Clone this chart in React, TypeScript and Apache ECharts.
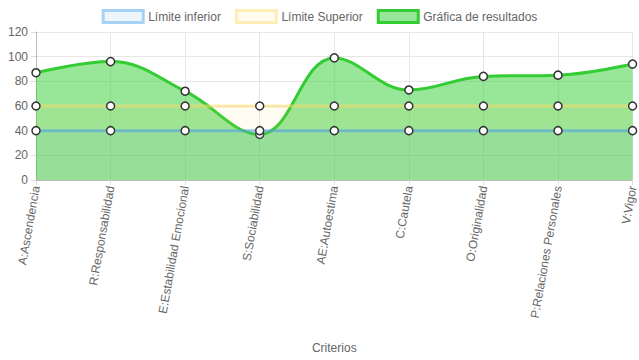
import React, { useEffect, useRef } from "react";
import * as echarts from "echarts";

const categories = [
  "A:Ascendencia",
  "R:Responsabilidad",
  "E:Estabilidad Emocional",
  "S:Sociabilidad",
  "AE:Autoestima",
  "C:Cautela",
  "O:Originalidad",
  "P:Relaciones Personales",
  "V:Vigor",
];
const limiteInferior = [40, 40, 40, 40, 40, 40, 40, 40, 40];
const limiteSuperior = [60, 60, 60, 60, 60, 60, 60, 60, 60];
const resultados = [87, 96, 72, 37, 99, 73, 84, 85, 94];
const yTicks = { min: 0, max: 120, interval: 20 };

const FONT = "'Liberation Sans', Arial, Helvetica, sans-serif";

export default function App() {
  const ref = useRef<HTMLDivElement>(null);
  useEffect(() => {
    if (!ref.current) return;
    const chart = echarts.init(ref.current, null, { renderer: "svg" });
    const point = {
      symbol: "circle",
      symbolSize: 8,
      itemStyle: { color: "#fff", borderColor: "#333", borderWidth: 1.5 },
    };
    chart.setOption({
      animation: false,
      textStyle: { fontFamily: FONT },
      legend: {
        top: 4,
        left: "center",
        itemWidth: 40,
        itemHeight: 12,
        itemGap: 14,
        icon: "rect",
        textStyle: { color: "#666", fontSize: 12, fontFamily: FONT },
        data: [
          {
            name: "Límite inferior",
            itemStyle: { color: "#eef6fd", borderColor: "#a6d2f5", borderWidth: 3 },
          },
          {
            name: "Límite Superior",
            itemStyle: { color: "#fffbee", borderColor: "#fdeeb6", borderWidth: 3 },
          },
          {
            name: "Gráfica de resultados",
            itemStyle: { color: "#98e698", borderColor: "#33cc33", borderWidth: 3 },
          },
        ],
      },
      grid: { left: 36, right: 4, top: 32, bottom: 180, containLabel: false },
      xAxis: {
        type: "category",
        data: categories,
        boundaryGap: false,
        name: "Criterios",
        nameLocation: "middle",
        nameGap: 162,
        nameTextStyle: { color: "#666", fontSize: 12, fontFamily: FONT },
        axisLine: { show: true, lineStyle: { color: "#bbb" } },
        axisTick: { show: true, length: 5, lineStyle: { color: "#ddd" } },
        axisLabel: {
          rotate: 80,
          color: "#666",
          fontSize: 12,
          fontFamily: FONT,
          margin: 6,
          interval: 0,
        },
        splitLine: { show: true, lineStyle: { color: "#e6e6e6" } },
      },
      yAxis: {
        type: "value",
        min: yTicks.min,
        max: yTicks.max,
        interval: yTicks.interval,
        axisLine: { show: true, lineStyle: { color: "#bbb" } },
        axisTick: { show: true, length: 5, lineStyle: { color: "#ddd" } },
        axisLabel: { color: "#666", fontSize: 12, fontFamily: FONT, margin: 8 },
        splitLine: { show: true, lineStyle: { color: "#e6e6e6" } },
      },
      series: [
        {
          name: "Gráfica de resultados",
          type: "line",
          data: resultados,
          smooth: 0.4,
          z: 2,
          lineStyle: { color: "#33cc33", width: 3 },
          areaStyle: { color: "rgba(50,205,50,0.5)", opacity: 1, origin: "start" },
          ...point,
        },
        {
          name: "Límite Superior",
          type: "line",
          data: limiteSuperior,
          z: 3,
          lineStyle: { color: "rgba(255,220,110,0.55)", width: 3 },
          areaStyle: { color: "rgba(255,206,86,0.07)", opacity: 1, origin: "start" },
          ...point,
        },
        {
          name: "Límite inferior",
          type: "line",
          data: limiteInferior,
          z: 4,
          lineStyle: { color: "rgba(80,160,235,0.55)", width: 3 },
          areaStyle: { color: "rgba(54,162,235,0.07)", opacity: 1, origin: "start" },
          ...point,
        },
      ],
    });
    return () => chart.dispose();
  }, []);
  return <div ref={ref} style={{ width: 639, height: 360, position: "absolute", left: 0, top: 0 }} />;
}
